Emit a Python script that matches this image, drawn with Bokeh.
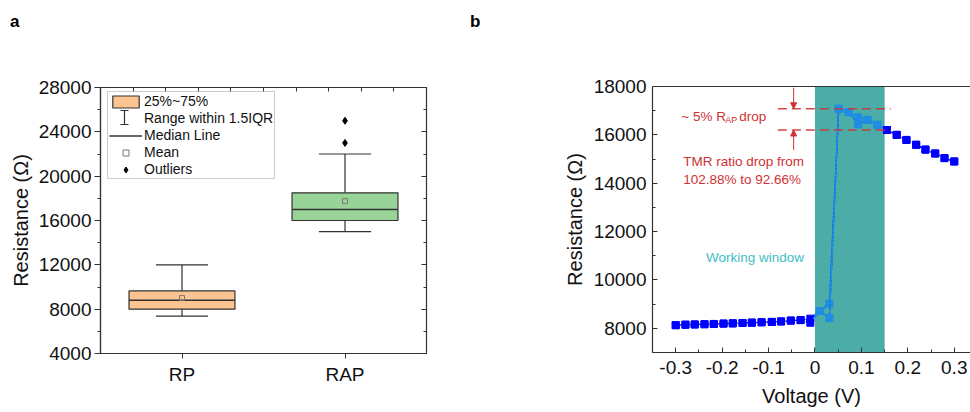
import numpy as np
from bokeh.plotting import figure
from bokeh.models import (ColumnDataSource, Range1d, LinearAxis, FixedTicker, Legend, LegendItem,
                          BoxAnnotation, Label, Arrow, NormalHead, Div)
from bokeh.layouts import row, column
from bokeh.embed import file_html
from bokeh.resources import INLINE

# ---------------- Panel a data ----------------
groups = ["RP", "RAP"]
q1 = [8000, 16000]
q3 = [9650, 18500]
median = [8800, 17000]
mean = [9000, 17750]
whisker_lo = [7370, 15000]
whisker_hi = [12000, 22000]
outlier_group = ["RAP", "RAP"]
outlier_vals = [23000, 25000]
box_colors = ["#fbc490", "#98d498"]
y_ticks_a = [4000, 8000, 12000, 16000, 20000, 24000, 28000]
y_minor_a = [6000, 10000, 14000, 18000, 22000, 26000]

# ---------------- Panel b data ----------------
voltage_fwd = [-0.300, -0.279, -0.259, -0.238, -0.218, -0.197, -0.177, -0.156, -0.136, -0.115,
               -0.093, -0.073, -0.052, -0.031, -0.010, 0.010, 0.031, 0.051, 0.072, 0.093,
               0.113, 0.134, 0.155, 0.176, 0.197, 0.218, 0.238, 0.259, 0.279, 0.300]
res_fwd = [8130, 8150, 8160, 8170, 8180, 8195, 8205, 8220, 8235, 8250,
           8265, 8285, 8320, 8340, 8400, 8715, 9020, 17080, 16940, 16730,
           16620, 16420, 16200, 16000, 15790, 15590, 15390, 15230, 15040, 14900]
voltage_bwd = [0.300, 0.279, 0.259, 0.238, 0.218, 0.197, 0.176, 0.155, 0.134, 0.113,
               0.093, 0.072, 0.051, 0.031, 0.010, -0.010, -0.031, -0.052, -0.073, -0.093,
               -0.115, -0.136, -0.156, -0.177, -0.197, -0.218, -0.238, -0.259, -0.279, -0.300]
res_bwd = [14900, 15040, 15230, 15390, 15590, 15790, 16000, 16200, 16420, 16620,
           16430, 16940, 17080, 8425, 8715, 8230, 8340, 8320, 8285, 8265,
           8250, 8235, 8220, 8205, 8195, 8180, 8170, 8160, 8150, 8130]
window = [0.0, 0.15]
x_ticks_b = [-0.3, -0.2, -0.1, 0.0, 0.1, 0.2, 0.3]
x_tick_labels_b = ["-0.3", "-0.2", "-0.1", "0", "0.1", "0.2", "0.3"]
x_minor_b = [-0.35, -0.25, -0.15, -0.05, 0.05, 0.15, 0.25]
y_ticks_b = [8000, 10000, 12000, 14000, 16000, 18000]
y_minor_b = [7000, 9000, 11000, 13000, 15000, 17000]

FONT = "Liberation Sans"
DARK = "#333333"
RED = "#d03232"
HEAD_H = 40

# ======================= Panel a =======================
A_XR = (0.5, 2.5)
A_YR = (4000, 28000)
A_FW, A_FH = 326, 266          # frame size in px
pa = figure(width=460, height=412 - HEAD_H, x_range=Range1d(*A_XR), y_range=Range1d(*A_YR),
            output_backend="svg", toolbar_location=None, margin=0,
            min_border_left=100, min_border_right=460 - 100 - A_FW,
            min_border_top=87 - HEAD_H, min_border_bottom=412 - HEAD_H - (87 - HEAD_H) - A_FH)
pa.grid.visible = False
pa.outline_line_color = DARK
pa.outline_line_width = 1.2
pa.background_fill_color = "white"

xpos = np.arange(1, len(groups) + 1, dtype=float)
BOX_W = 0.65
CAP_W = 0.32
src = ColumnDataSource(dict(
    x=xpos, q1=q1, q3=q3, med=median, mean=mean, lo=whisker_lo, hi=whisker_hi, color=box_colors,
    bl=xpos - BOX_W / 2, br=xpos + BOX_W / 2, cl=xpos - CAP_W / 2, cr=xpos + CAP_W / 2))

pa.segment(x0="x", y0="q3", x1="x", y1="hi", source=src, line_color=DARK, line_width=1.2)
pa.segment(x0="x", y0="lo", x1="x", y1="q1", source=src, line_color=DARK, line_width=1.2)
pa.segment(x0="cl", y0="hi", x1="cr", y1="hi", source=src, line_color=DARK, line_width=1.2)
pa.segment(x0="cl", y0="lo", x1="cr", y1="lo", source=src, line_color=DARK, line_width=1.2)
box_r = pa.vbar(x="x", width=BOX_W, top="q3", bottom="q1", source=src, fill_color="color",
                line_color=DARK, line_width=1.2)
med_r = pa.segment(x0="bl", y0="med", x1="br", y1="med", source=src, line_color=DARK, line_width=1.5)
mean_r = pa.scatter(x="x", y="mean", source=src, marker="square", size=5, fill_color=None,
                    line_color="#777777", line_width=1)
out_x = [groups.index(g) + 1 for g in outlier_group]
out_r = pa.scatter(x=out_x, y=outlier_vals, marker="diamond", size=7, fill_color="black",
                   line_color="black")
# placeholder (draws nothing) for the whisker legend entry; its "I" symbol is drawn below
wh_leg = pa.scatter(x=[], y=[], marker="square", size=0, line_color=None, fill_color=None)

# "I" symbol of the legend: pixel offsets from the frame's lower-left corner -> data units
def px2x(px):
    return A_XR[0] + px / A_FW * (A_XR[1] - A_XR[0])

def px2y(px):
    return A_YR[0] + px / A_FH * (A_YR[1] - A_YR[0])

I_CX, I_CY, I_H, I_W = 24, 236, 14, 8
pa.segment(x0=[px2x(I_CX), px2x(I_CX - I_W / 2), px2x(I_CX - I_W / 2)],
           x1=[px2x(I_CX), px2x(I_CX + I_W / 2), px2x(I_CX + I_W / 2)],
           y0=[px2y(I_CY - I_H / 2), px2y(I_CY + I_H / 2), px2y(I_CY - I_H / 2)],
           y1=[px2y(I_CY + I_H / 2), px2y(I_CY + I_H / 2), px2y(I_CY - I_H / 2)],
           line_color=DARK, line_width=1.2)

pa.xaxis.ticker = FixedTicker(ticks=list(xpos))
pa.xaxis.major_label_overrides = {float(x): g for x, g in zip(xpos, groups)}
pa.xaxis.major_tick_out = 5
pa.xaxis.major_tick_in = 0
pa.xaxis.major_label_standoff = 5

pa.yaxis.ticker = FixedTicker(ticks=y_ticks_a, minor_ticks=y_minor_a)
pa.yaxis.major_tick_out = 6
pa.yaxis.major_tick_in = 0
pa.yaxis.minor_tick_out = 3
pa.yaxis.minor_tick_in = 0
pa.yaxis.major_label_standoff = 3
pa.yaxis.axis_label = "Resistance (\u03a9)"
pa.yaxis.axis_label_standoff = 4

for ax in [pa.xaxis[0], pa.yaxis[0]]:
    ax.axis_line_color = DARK
    ax.axis_line_width = 1.2
    ax.major_tick_line_color = DARK
    ax.minor_tick_line_color = DARK if ax is pa.yaxis[0] else None
    ax.major_label_text_font = FONT
    ax.major_label_text_font_size = "19px"
    ax.major_label_text_color = "#111111"
    ax.axis_label_text_font = FONT
    ax.axis_label_text_font_size = "20px"
    ax.axis_label_text_font_style = "normal"
    ax.axis_label_text_color = "#111111"

top_a = LinearAxis(ticker=FixedTicker(ticks=[0.7, 0.9, 1.1, 1.3, 1.5, 1.7, 1.9, 2.1, 2.3]),
                   major_tick_in=4, major_tick_out=0, major_label_text_color=None,
                   minor_tick_line_color=None, axis_line_color=DARK, major_tick_line_color=DARK)
pa.add_layout(top_a, "above")
right_a = LinearAxis(ticker=FixedTicker(ticks=y_ticks_a, minor_ticks=y_minor_a),
                     major_tick_in=5, major_tick_out=0, minor_tick_in=3, minor_tick_out=0,
                     major_label_text_color=None, axis_line_color=DARK,
                     major_tick_line_color=DARK, minor_tick_line_color=DARK)
pa.add_layout(right_a, "right")

legend = Legend(items=[
    LegendItem(label="25%~75%", renderers=[box_r], index=0),
    LegendItem(label="Range within 1.5IQR", renderers=[wh_leg]),
    LegendItem(label="Median Line", renderers=[med_r], index=0),
    LegendItem(label="Mean", renderers=[mean_r], index=0),
    LegendItem(label="Outliers", renderers=[out_r], index=0),
], location=(7, 174))
legend.label_text_font = FONT
legend.label_text_font_size = "14px"
legend.label_text_color = "#111111"
legend.label_height = 15
legend.glyph_height = 15
legend.glyph_width = 33
legend.label_standoff = 2
legend.spacing = 1
legend.padding = 1
legend.margin = 0
legend.border_line_color = "#999999"
legend.border_line_width = 1
legend.background_fill_alpha = 0
pa.add_layout(legend, "center")

# ======================= Panel b =======================
pb = figure(width=510, height=412 - HEAD_H, x_range=Range1d(-0.35, 0.335), y_range=Range1d(7000, 18000),
            output_backend="svg", toolbar_location=None, margin=0,
            min_border_left=192, min_border_right=0, min_border_top=86 - HEAD_H, min_border_bottom=60)
pb.grid.visible = False
pb.outline_line_color = None

pb.add_layout(BoxAnnotation(left=window[0], right=window[1], fill_color="#4cacA8", fill_alpha=1,
                            line_color=None, level="underlay"))

BLUE = "#0000ff"
LBLUE = "#1e8ee4"
for V, R in [(voltage_fwd, res_fwd), (voltage_bwd, res_bwd)]:
    V = np.array(V)
    R = np.array(R)
    pb.line(V, R, line_color=BLUE, line_dash="2 2", line_width=1.3)
    inside = (V >= window[0]) & (V <= window[1])
    ext = inside.copy()
    ext[1:] |= inside[:-1]
    ext[:-1] |= inside[1:]
    pb.line(V[ext], R[ext], line_color=LBLUE, line_width=1.5)
    pb.scatter(V[~inside], R[~inside], marker="square", size=7, fill_color=BLUE, line_color=BLUE)
    pb.scatter(V[inside], R[inside], marker="square", size=7, fill_color=LBLUE, line_color=LBLUE)

r_high = max(res_fwd)
r_low = res_fwd[voltage_fwd.index(0.155)]
pb.segment(x0=[-0.08, -0.08], x1=[0.163, 0.163], y0=[r_high, r_low], y1=[r_high, r_low],
           line_color=RED, line_dash="9 5", line_width=1.5, line_alpha=0.9)
pb.add_layout(Arrow(x_start=-0.046, y_start=17950, x_end=-0.046, y_end=r_high,
                    line_color=RED, line_width=1,
                    end=NormalHead(size=6, fill_color=RED, line_color=RED)))
pb.add_layout(Arrow(x_start=-0.046, y_start=15380, x_end=-0.046, y_end=r_low,
                    line_color=RED, line_width=1,
                    end=NormalHead(size=6, fill_color=RED, line_color=RED)))

lab_kw = dict(text_font=FONT, text_font_size="13.5px", text_color=RED, text_baseline="middle")
pb.add_layout(Label(x=-0.288, y=16770, text="~ 5% R", **lab_kw))
pb.add_layout(Label(x=-0.288, y=16770, x_offset=44, y_offset=-4, text="AP",
                    text_font=FONT, text_font_size="9px", text_color=RED, text_baseline="middle"))
pb.add_layout(Label(x=-0.288, y=16770, x_offset=58, text="drop", **lab_kw))
pb.add_layout(Label(x=-0.284, y=14900, text="TMR ratio drop from", **lab_kw))
pb.add_layout(Label(x=-0.284, y=14170, text="102.88% to 92.66%", **lab_kw))
pb.add_layout(Label(x=-0.235, y=10930, text="Working window", text_font=FONT,
                    text_font_size="13.5px", text_color="#3fbec4", text_baseline="middle"))

pb.xaxis.ticker = FixedTicker(ticks=x_ticks_b, minor_ticks=x_minor_b)
pb.xaxis.major_label_overrides = {t: s for t, s in zip(x_ticks_b, x_tick_labels_b)}
pb.xaxis.axis_label = "Voltage (V)"
pb.xaxis.major_label_standoff = 8
pb.xaxis.axis_label_standoff = 8
pb.yaxis.ticker = FixedTicker(ticks=y_ticks_b, minor_ticks=y_minor_b)
pb.yaxis.axis_label = "Resistance (\u03a9)"
pb.yaxis.major_label_standoff = 6
pb.yaxis.axis_label_standoff = 5
for ax in [pb.xaxis[0], pb.yaxis[0]]:
    ax.major_tick_in = 5
    ax.major_tick_out = 0
    ax.minor_tick_in = 3
    ax.minor_tick_out = 0
    ax.axis_line_color = DARK
    ax.axis_line_width = 1.2
    ax.major_tick_line_color = DARK
    ax.minor_tick_line_color = DARK
    ax.major_label_text_font = FONT
    ax.major_label_text_font_size = "19px"
    ax.major_label_text_color = "#111111"
    ax.axis_label_text_font = FONT
    ax.axis_label_text_font_size = "20px"
    ax.axis_label_text_font_style = "normal"
    ax.axis_label_text_color = "#111111"

top_b = LinearAxis(ticker=FixedTicker(ticks=[]), major_label_text_color=None,
                   major_tick_line_color=None, minor_tick_line_color=None,
                   axis_line_color=DARK, axis_line_width=1.2)
pb.add_layout(top_b, "above")

span_style = ("position:absolute; left:10px; top:12px; font-family:'Liberation Sans'; "
              "font-weight:bold; font-size:17px; line-height:20px; color:black;")
div_a = Div(text=f'<span style="{span_style}">a</span>', width=460, height=HEAD_H, margin=0)
div_b = Div(text=f'<span style="{span_style}">b</span>', width=510, height=HEAD_H, margin=0)

layout = row(column(div_a, pa, spacing=0, margin=0), column(div_b, pb, spacing=0, margin=0),
             spacing=0, margin=0)
open("out.html", "w").write(file_html(layout, INLINE))
